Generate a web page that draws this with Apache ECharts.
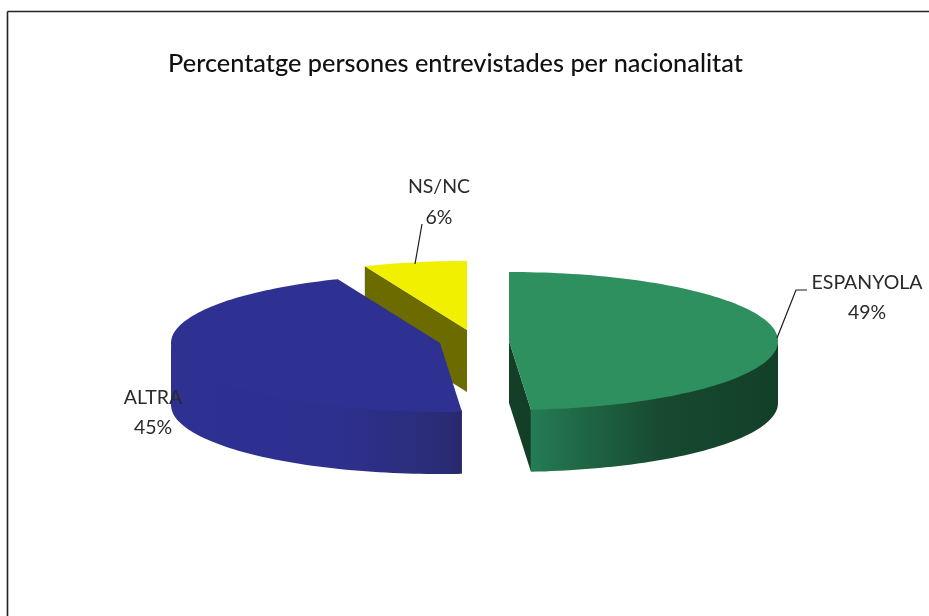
<!DOCTYPE html>
<html>
<head>
<meta charset="utf-8">
<style>html,body{margin:0;padding:0;background:#fff}#c{width:929px;height:616px}</style>
<script src="https://cdn.jsdelivr.net/npm/echarts@6/dist/echarts.min.js"></script>
</head>
<body>
<div id="c"></div>
<script>
const chartTitle = 'Percentatge persones entrevistades per nacionalitat';
const categories = ['ESPANYOLA', 'ALTRA', 'NS/NC'];
const values = [48.7, 45.1, 6.2];

// Appearance of each slice (not data)
const centers = [[509, 341], [440, 343], [467, 330]];
const RX = 269, RY = 69, DEPTH = 62;
const topColors = ['#2e8f5f', '#2e3092', '#f0f000'];
const cutColors = ['#133f29', null, '#6b6b00'];
const wallStops = [
  [[530, '#237d55'], [585, '#1f6643'], [660, '#174a30'], [778, '#133f28']],
  [[172, '#2e3092'], [330, '#2e3090'], [400, '#2c2e80'], [440, '#2a2c78'], [461, '#28296c']],
  null
];
const labelBoxes = [
  {x: 867, y1: 283, y2: 313, line: [[777, 338], [796, 290], [807, 290]]},
  {x: 153, y1: 398, y2: 428, line: null},
  {x: 439, y1: 187, y2: 218, line: [[415, 264], [422, 224]]}
];

const total = values.reduce((a, b) => a + b, 0);
const rad = d => d * Math.PI / 180;
function pt(c, deg, dy) {
  return [c[0] + RX * Math.sin(rad(deg)), c[1] - RY * Math.cos(rad(deg)) + (dy || 0)];
}
function arc(c, a, b, dy) {
  const n = Math.max(2, Math.ceil(Math.abs(b - a) / 1.5)), out = [];
  for (let i = 0; i <= n; i++) out.push(pt(c, a + (b - a) * i / n, dy));
  return out;
}
function wallFill(stops) {
  const x0 = stops[0][0], x1 = stops[stops.length - 1][0];
  return new echarts.graphic.LinearGradient(x0, 0, x1, 0,
    stops.map(s => ({offset: (s[0] - x0) / (x1 - x0), color: s[1]})), true);
}
function renderSlice(params, api) {
  const i = params.dataIndex, v = api.value(0);
  let before = 0;
  for (let k = 0; k < i; k++) before += values[k];
  const a = before / total * 360, b = (before + v) / total * 360;
  const c = centers[i], kids = [], z = i === 0 ? 30 : i === 1 ? 20 : 10;
  // radial cut face
  if (cutColors[i]) {
    const ang = i === 0 ? b : a, e = pt(c, ang);
    kids.push({type: 'polygon', z2: z, shape: {points: [c, e, [e[0], e[1] + DEPTH], [c[0], c[1] + DEPTH]]},
      style: {fill: cutColors[i]}});
  }
  // outer front wall, tucked slightly under the top face so no seam shows
  const wa = Math.max(a, 90), wb = Math.min(b, 270);
  if (wb > wa && wallStops[i]) {
    const t = arc(c, wa, wb, -1.5), bt = arc(c, wb, wa, DEPTH);
    kids.push({type: 'polygon', z2: z + 1, shape: {points: t.concat(bt)},
      style: {fill: wallFill(wallStops[i])}});
  }
  // top face
  kids.push({type: 'polygon', z2: z + 2, shape: {points: [c].concat(arc(c, a, b, 0))},
    style: {fill: topColors[i]}});
  // leader line and label
  const L = labelBoxes[i];
  if (L.line) kids.push({type: 'polyline', z2: 50, shape: {points: L.line},
    style: {stroke: '#1a1a1a', lineWidth: 1.2, fill: null}});
  const font = '19.5px Lato';
  kids.push({type: 'text', z2: 60, style: {text: categories[i], x: L.x, y: L.y1, align: 'center',
    verticalAlign: 'middle', font: font, fill: '#2a2a2a'}});
  kids.push({type: 'text', z2: 60, style: {text: Math.round(v) + '%', x: L.x, y: L.y2, align: 'center',
    verticalAlign: 'middle', font: font, fill: '#2a2a2a'}});
  return {type: 'group', children: kids};
}

const chart = echarts.init(document.getElementById('c'), null, {renderer: 'canvas'});
chart.setOption({
  animation: false,
  backgroundColor: '#ffffff',
  title: {
    text: chartTitle, left: 450.5, top: 59, textAlign: 'center', textVerticalAlign: 'middle',
    textStyle: {fontFamily: 'Lato', fontSize: 25.3, fontWeight: 500, color: '#111'}
  },
  graphic: [
    {type: 'line', shape: {x1: 7.5, y1: 11.5, x2: 929, y2: 11.5}, style: {stroke: '#222', lineWidth: 1.6}},
    {type: 'line', shape: {x1: 7.5, y1: 11.5, x2: 7.5, y2: 616}, style: {stroke: '#222', lineWidth: 1.6}}
  ],
  series: [{
    type: 'custom',
    coordinateSystem: 'none',
    renderItem: renderSlice,
    data: categories.map((n, i) => ({name: n, value: [values[i]]}))
  }]
});
</script>
</body>
</html>
